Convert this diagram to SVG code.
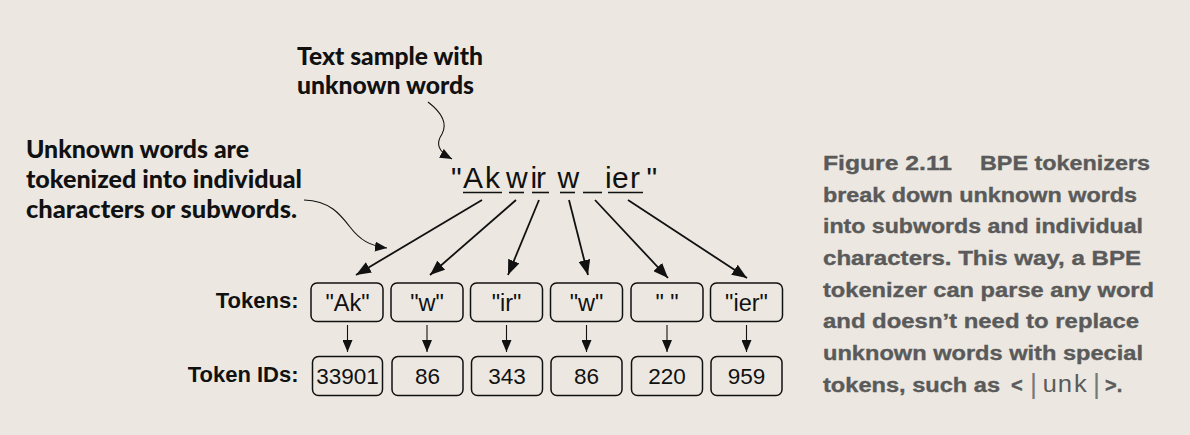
<svg xmlns="http://www.w3.org/2000/svg" width="1190" height="435" viewBox="0 0 1190 435">
<style>
.note{font-family:Lato,"Open Sans",sans-serif;font-weight:900;font-size:24px;fill:#111}
.lbl{font-family:"Liberation Sans",Arial,sans-serif;font-weight:bold;font-size:22px;fill:#111;text-anchor:end}
.tok{font-family:"Liberation Sans",Arial,sans-serif;font-size:23.5px;fill:#111;text-anchor:middle}
.id{font-family:"Liberation Sans",Arial,sans-serif;font-size:22.5px;fill:#111;text-anchor:middle}
.box{fill:none;stroke:#111;stroke-width:1.5}
.arr{fill:none;stroke:#111;stroke-width:1.8}
.thin{fill:none;stroke:#111;stroke-width:1.1}
.ul{stroke:#111;stroke-width:1.6}
.cap{font-family:"Liberation Sans",Arial,sans-serif;font-weight:bold;font-size:20px;fill:#5a5a5a;stroke:#5a5a5a;stroke-width:0.35}
.mono{font-family:"Liberation Mono","Courier New",monospace;font-weight:normal;font-size:24px;fill:#5a5a5a}
.bar{font-family:"Liberation Sans",Arial,sans-serif;font-weight:normal;font-size:27px;fill:#777}
</style>
<defs>
<marker id="ah" markerUnits="userSpaceOnUse" markerWidth="17" markerHeight="12" refX="15" refY="6" orient="auto"><path d="M0,0 L15,6 L0,12 Z" fill="#111"/></marker>
<marker id="ahs" markerUnits="userSpaceOnUse" markerWidth="14" markerHeight="10" refX="12" refY="5" orient="auto"><path d="M0,0 L12,5 L0,10 Z" fill="#111"/></marker>
</defs>
<rect width="1190" height="435" fill="#ece8e1"/>

<g id="note-sample">
<text class="note" x="297" y="65" textLength="186" lengthAdjust="spacingAndGlyphs">Text sample with</text>
<text class="note" x="297" y="94" textLength="177" lengthAdjust="spacingAndGlyphs">unknown words</text>
</g>
<g id="note-unknown">
<text class="note" x="26" y="158" font-size="23" textLength="223" lengthAdjust="spacingAndGlyphs">Unknown words are</text>
<text class="note" x="26" y="188" font-size="23" textLength="276" lengthAdjust="spacingAndGlyphs">tokenized into individual</text>
<text class="note" x="26" y="218" font-size="23" textLength="271" lengthAdjust="spacingAndGlyphs">characters or subwords.</text>
</g>

<g id="sample">
<text x="451 463 485 506 530.5 536 557.5 580 605 612 630 646.5" y="187.5" font-family="Liberation Sans, Arial, sans-serif" font-size="30" fill="#111" xml:space="preserve">"Akwirw ier"</text>
<line class="ul" x1="463" y1="192.5" x2="502" y2="192.5"/>
<line class="ul" x1="509" y1="192.5" x2="524" y2="192.5"/>
<line class="ul" x1="532" y1="192.5" x2="549" y2="192.5"/>
<line class="ul" x1="560" y1="192.5" x2="575" y2="192.5"/>
<line class="ul" x1="583" y1="192.5" x2="602" y2="192.5"/>
<line class="ul" x1="608" y1="192.5" x2="643" y2="192.5"/>
</g>

<g id="tokens">
<text class="lbl" x="298.5" y="307.5">Tokens:</text>
<rect class="box" x="311" y="283" width="72" height="38.5" rx="6"/>
<rect class="box" x="391" y="283" width="72" height="38.5" rx="6"/>
<rect class="box" x="470.5" y="283" width="72" height="38.5" rx="6"/>
<rect class="box" x="550.5" y="283" width="72" height="38.5" rx="6"/>
<rect class="box" x="631" y="283" width="72" height="38.5" rx="6"/>
<rect class="box" x="710.5" y="283" width="72" height="38.5" rx="6"/>
<text class="tok" x="347.5" y="311">"Ak"</text>
<text class="tok" x="427" y="311">"w"</text>
<text class="tok" x="506.5" y="311">"ir"</text>
<text class="tok" x="586.5" y="311">"w"</text>
<text class="tok" x="667" y="311" xml:space="preserve">" "</text>
<text class="tok" x="746.5" y="311">"ier"</text>
</g>

<g id="token-ids">
<text class="lbl" x="298.5" y="382">Token IDs:</text>
<rect class="box" x="312.5" y="356.5" width="70" height="39" rx="6"/>
<rect class="box" x="392" y="356.5" width="71" height="39" rx="6"/>
<rect class="box" x="471.5" y="356.5" width="71" height="39" rx="6"/>
<rect class="box" x="551" y="356.5" width="71" height="39" rx="6"/>
<rect class="box" x="631.5" y="356.5" width="71" height="39" rx="6"/>
<rect class="box" x="711" y="356.5" width="71" height="39" rx="6"/>
<text class="id" x="347.5" y="383.5">33901</text>
<text class="id" x="427.5" y="383.5">86</text>
<text class="id" x="507" y="383.5">343</text>
<text class="id" x="586.5" y="383.5">86</text>
<text class="id" x="667" y="383.5">220</text>
<text class="id" x="746.5" y="383.5">959</text>
</g>

<g id="connectors">
<path class="thin" d="M428,102 C441,112 448,123 442,134 C436,143 437,151 452,159" marker-end="url(#ahs)"/>
<path class="thin" d="M304,200 C330,201 340,214 350,227 C360,240 370,246 387,248" marker-end="url(#ahs)"/>
<line class="arr" x1="482" y1="200" x2="356" y2="275" marker-end="url(#ah)"/>
<line class="arr" x1="516" y1="200" x2="430" y2="275" marker-end="url(#ah)"/>
<line class="arr" x1="539" y1="200" x2="508" y2="275" marker-end="url(#ah)"/>
<line class="arr" x1="569" y1="200" x2="588" y2="275" marker-end="url(#ah)"/>
<line class="arr" x1="595" y1="200" x2="668" y2="278" marker-end="url(#ah)"/>
<line class="arr" x1="628" y1="200" x2="747" y2="278" marker-end="url(#ah)"/>
<line class="thin" x1="347.5" y1="325" x2="347.5" y2="352" marker-end="url(#ahs)"/>
<line class="thin" x1="427" y1="325" x2="427" y2="352" marker-end="url(#ahs)"/>
<line class="thin" x1="506.5" y1="325" x2="506.5" y2="352" marker-end="url(#ahs)"/>
<line class="thin" x1="586.5" y1="325" x2="586.5" y2="352" marker-end="url(#ahs)"/>
<line class="thin" x1="667" y1="325" x2="667" y2="352" marker-end="url(#ahs)"/>
<line class="thin" x1="746.5" y1="325" x2="746.5" y2="352" marker-end="url(#ahs)"/>
</g>

<g id="caption">
<text class="cap" x="823" y="170" textLength="129" lengthAdjust="spacingAndGlyphs">Figure 2.11</text>
<text class="cap" x="980" y="170" textLength="170" lengthAdjust="spacingAndGlyphs">BPE tokenizers</text>
<text class="cap" x="823" y="201.7" textLength="314" lengthAdjust="spacingAndGlyphs">break down unknown words</text>
<text class="cap" x="823" y="233.3" textLength="320" lengthAdjust="spacingAndGlyphs">into subwords and individual</text>
<text class="cap" x="823" y="265" textLength="318" lengthAdjust="spacingAndGlyphs">characters. This way, a BPE</text>
<text class="cap" x="823" y="296.7" textLength="331" lengthAdjust="spacingAndGlyphs">tokenizer can parse any word</text>
<text class="cap" x="823" y="328.3" textLength="316" lengthAdjust="spacingAndGlyphs">and doesn’t need to replace</text>
<text class="cap" x="823" y="360" textLength="320" lengthAdjust="spacingAndGlyphs">unknown words with special</text>
<text class="cap" x="823" y="391.7" textLength="177" lengthAdjust="spacingAndGlyphs">tokens, such as</text>
<text class="cap" x="1011" y="391.7">&lt;</text>
<text class="bar" x="1030" y="393">|</text>
<text class="mono" x="1042" y="391.7" textLength="46" lengthAdjust="spacingAndGlyphs">unk</text>
<text class="bar" x="1093" y="393">|</text>
<text class="cap" x="1105" y="391.7">&gt;.</text>
</g>
</svg>
